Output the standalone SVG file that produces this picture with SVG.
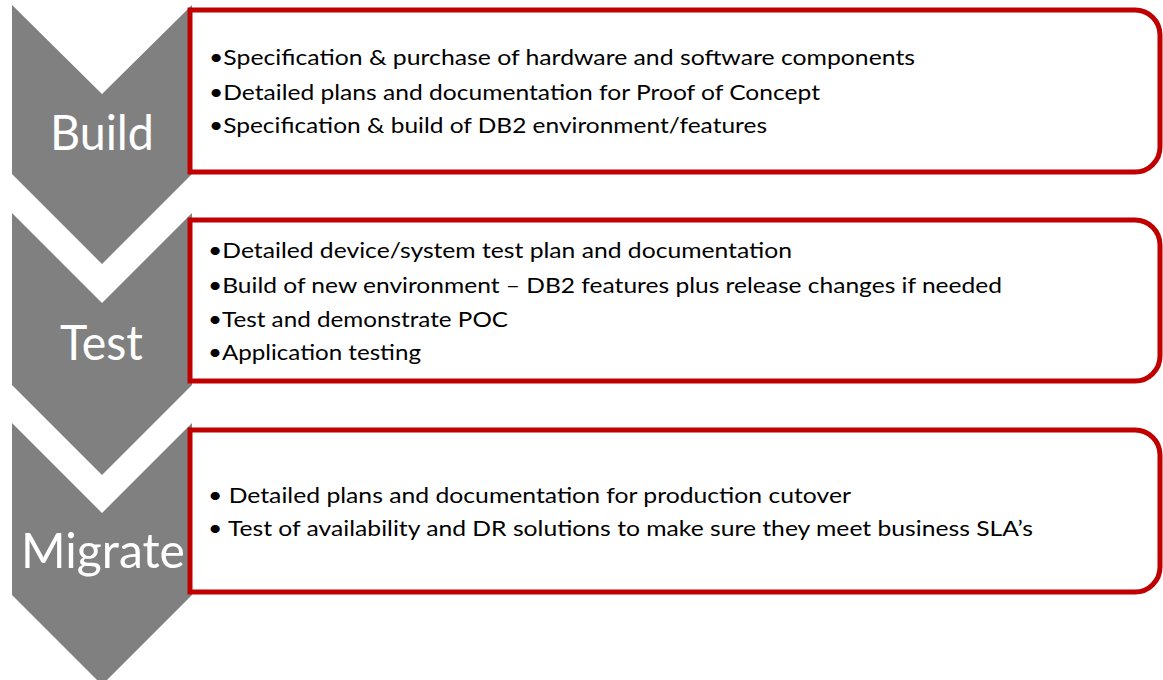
<svg xmlns="http://www.w3.org/2000/svg" width="1163" height="680" viewBox="0 0 1163 680">
<style>
.chev{fill:#808080;}
.box{fill:#ffffff;stroke:#C00000;stroke-width:5;}
.lbl{font-family:Lato,"Open Sans","Liberation Sans",sans-serif;font-size:48px;fill:#ffffff;}
.item{font-family:Lato,"Open Sans","Liberation Sans",sans-serif;font-size:22px;fill:#000000;}
</style>
<rect width="1163" height="680" fill="#ffffff"/>
<g id="build">
<polygon class="chev" points="12,5 102,94 192,5 192,174 102,264 12,174"/>
<path class="box" d="M190,10 H1135 A25,25 0 0 1 1160,35 V147 A25,25 0 0 1 1135,172 H190 Z"/>
<text class="lbl" x="50" y="150" textLength="104" lengthAdjust="spacingAndGlyphs">Build</text>
<text class="item" x="209" y="65" textLength="706" lengthAdjust="spacingAndGlyphs">•Specification &amp; purchase of hardware and software components</text>
<text class="item" x="209" y="99.5" textLength="611" lengthAdjust="spacingAndGlyphs">•Detailed plans and documentation for Proof of Concept</text>
<text class="item" x="209" y="133" textLength="558" lengthAdjust="spacingAndGlyphs">•Specification &amp; build of DB2 environment/features</text>
</g>
<g id="test">
<polygon class="chev" points="12,213 102,303 192,213 192,385 102,475 12,385"/>
<path class="box" d="M190,220 H1135 A25,25 0 0 1 1160,245 V356 A25,25 0 0 1 1135,381 H190 Z"/>
<text class="lbl" x="60" y="360" textLength="83" lengthAdjust="spacingAndGlyphs">Test</text>
<text class="item" x="208" y="258" textLength="584" lengthAdjust="spacingAndGlyphs">•Detailed device/system test plan and documentation</text>
<text class="item" x="208" y="293" textLength="794" lengthAdjust="spacingAndGlyphs">•Build of new environment – DB2 features plus release changes if needed</text>
<text class="item" x="208" y="327" textLength="300" lengthAdjust="spacingAndGlyphs">•Test and demonstrate POC</text>
<text class="item" x="208" y="360" textLength="213" lengthAdjust="spacingAndGlyphs">•Application testing</text>
</g>
<g id="migrate">
<polygon class="chev" points="12,423 102,513 192,423 192,595 102,685 12,595"/>
<path class="box" d="M190,430 H1135 A25,25 0 0 1 1160,455 V567 A25,25 0 0 1 1135,592 H190 Z"/>
<text class="lbl" x="21" y="568" textLength="164" lengthAdjust="spacingAndGlyphs">Migrate</text>
<text class="item" x="208" y="503" textLength="643" lengthAdjust="spacingAndGlyphs">• Detailed plans and documentation for production cutover</text>
<text class="item" x="208" y="536" textLength="825" lengthAdjust="spacingAndGlyphs">• Test of availability and DR solutions to make sure they meet business SLA’s</text>
</g>
<g id="connectors"></g>
</svg>
